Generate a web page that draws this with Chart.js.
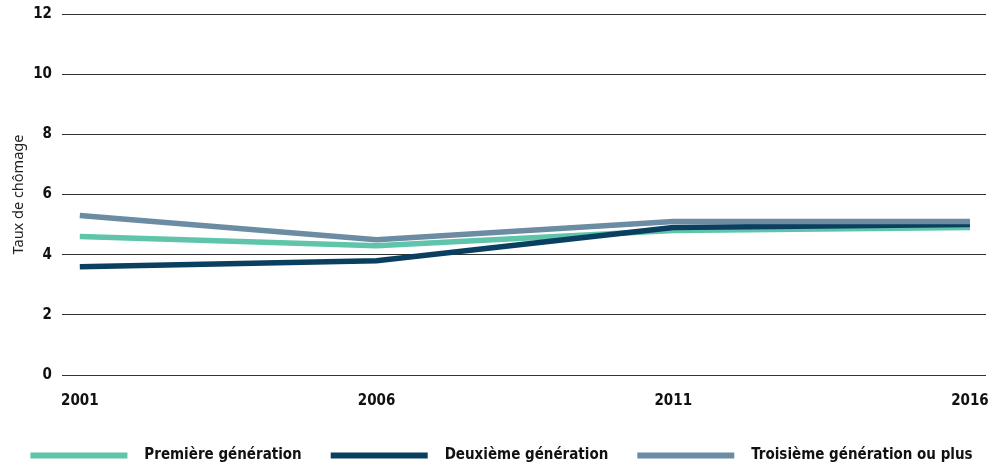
<!DOCTYPE html>
<html lang="fr">
<head>
<meta charset="utf-8">
<title>Taux de chômage selon la génération</title>
<script src="https://cdn.jsdelivr.net/npm/chart.js@4.4.1/dist/chart.umd.min.js"></script>
<style>
  html, body { margin: 0; padding: 0; background: #fff; }
  #wrap { width: 1003px; height: 468px; position: relative; }
</style>
</head>
<body>
<div id="wrap"><canvas id="chart"></canvas></div>
<script>
// Années de recensement
const annees = [2001, 2006, 2011, 2016];
// Taux de chômage (%) par génération
const premiereGeneration = [4.6, 4.3, 4.8, 4.9];
const deuxiemeGeneration = [3.6, 3.8, 4.9, 5.0];
const troisiemeGeneration = [5.3, 4.5, 5.1, 5.1];
const nomsSeries = ['Première génération', 'Deuxième génération', 'Troisième génération ou plus'];
const couleurs = ['#5fc4aa', '#0b3f60', '#6b8ca3'];
const yTicks = [0, 2, 4, 6, 8, 10, 12];

const valeurs = [premiereGeneration, deuxiemeGeneration, troisiemeGeneration];
const tickFont = { family: '"DejaVu Sans Condensed", "DejaVu Sans", sans-serif', size: 15, weight: 'bold' };

const datasets = nomsSeries.map((nom, i) => ({
  label: nom,
  data: annees.map((a, j) => ({ x: a, y: valeurs[i][j] })),
  borderColor: couleurs[i],
  backgroundColor: couleurs[i],
  borderWidth: 5.5,
  pointRadius: 0,
  pointHoverRadius: 0,
  tension: 0,
  fill: false,
  borderCapStyle: 'butt',
  // la dernière série est tracée au premier plan
  order: 3 - i
}));

new Chart(document.getElementById('chart'), {
  type: 'line',
  data: { datasets },
  options: {
    responsive: true,
    maintainAspectRatio: false,
    animation: false,
    layout: { padding: { top: 14, right: 0, left: 0, bottom: -5 } },
    plugins: {
      tooltip: { enabled: false },
      legend: {
        position: 'bottom',
        align: 'center',
        labels: {
          boxWidth: 97,
          boxHeight: 6,
          padding: 29,
          color: '#111',
          font: tickFont,
          sort: (a, b) => a.datasetIndex - b.datasetIndex,
          generateLabels: (chart) => Chart.defaults.plugins.legend.labels.generateLabels(chart)
            .map(item => Object.assign(item, { text: '\u2002\u2009' + item.text, lineWidth: 0 }))
        }
      }
    },
    scales: {
      x: {
        type: 'linear',
        min: 2000.7,
        max: 2016.27,
        afterBuildTicks: (scale) => { scale.ticks = annees.map(v => ({ value: v })); },
        grid: { display: false },
        border: { display: false },
        ticks: {
          color: '#111',
          font: tickFont,
          padding: 9,
          maxRotation: 0,
          autoSkip: false,
          callback: (v) => String(v)
        },
        afterFit: (scale) => { scale.height = 44; }
      },
      y: {
        min: 0,
        max: 12,
        afterBuildTicks: (scale) => { scale.ticks = yTicks.map(v => ({ value: v })); },
        grid: { color: '#333', lineWidth: 1, drawTicks: false },
        border: { display: false },
        ticks: { color: '#111', font: tickFont, padding: 10 },
        title: {
          display: true,
          text: 'Taux de chômage',
          color: '#222',
          font: { family: '"Noto Sans", sans-serif', size: 14.5 },
          padding: { top: 10, bottom: 8 }
        },
        afterFit: (scale) => { scale.width = 62; scale.paddingTop = 0; }
      },
      // marge de droite réservée à la zone de tracé
      yMarge: {
        position: 'right',
        display: true,
        grid: { display: false, drawTicks: false },
        border: { display: false },
        ticks: { display: false },
        afterFit: (scale) => { scale.width = 17; }
      }
    }
  }
});
</script>
</body>
</html>
